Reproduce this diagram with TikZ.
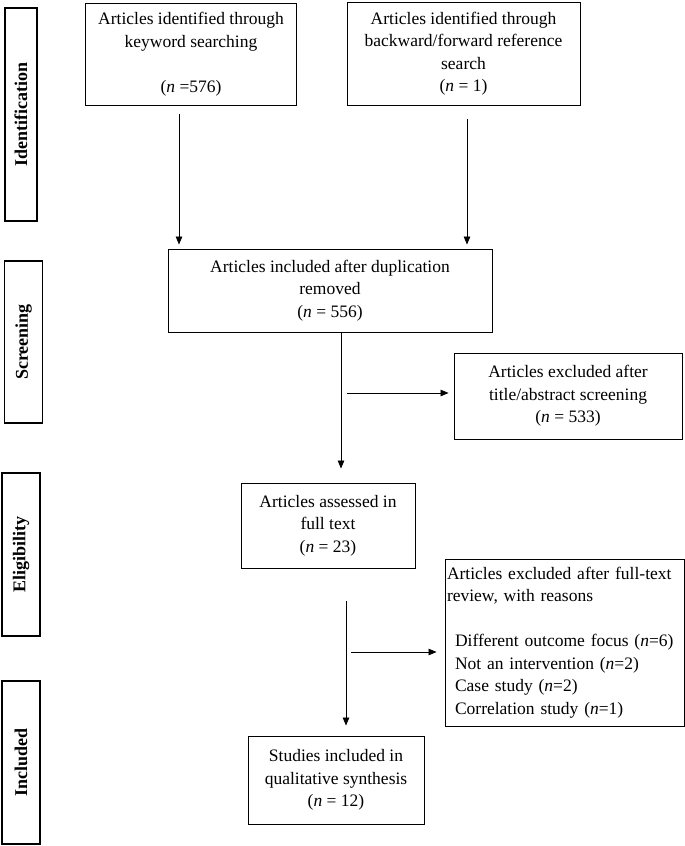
\documentclass[tikz,border=0pt]{standalone}
\usepackage{fontspec}
\setmainfont{Liberation Serif}
\usetikzlibrary{arrows.meta,positioning}

\begin{document}
\begin{tikzpicture}[x=1pt,y=-1pt,>={Triangle[length=8pt,width=6.5pt]},
  box/.style={draw,line width=0.9pt,align=center,inner sep=2pt,font=\fontsize{17.5}{22.5}\selectfont},
  phase/.style={draw,line width=1.2pt,rotate=90,font=\bfseries\fontsize{18}{22}\selectfont},
  arr/.style={->,line width=0.8pt}]
	  \useasboundingbox (0,0) rectangle (685,846);
	  % phases
	  \node[phase,minimum width=213,minimum height=32] (ph1) at (21,114.5) {Identification};
	  \node[phase,minimum width=162,minimum height=38] (ph2) at (23.5,342) {Screening};
	  \node[phase,minimum width=163,minimum height=38] (ph3) at (21,554.5) {Eligibility};
	  \node[phase,minimum width=163,minimum height=38] (ph4) at (21,762.5) {Included};
	  % boxes
	  \node[box,minimum width=211,minimum height=102] (kw) at (191,54)
	    {Articles identified through\\keyword searching\\[22.5pt](\textit{n} =576)};
	  \node[box,minimum width=233,minimum height=103] (ref) at (463.5,53.5)
	    {Articles identified through\\backward/forward reference\\search\\(\textit{n} = 1)};
	  \node[box,minimum width=324,minimum height=83] (dup) at (330,290.5)
	    {Articles included after duplication\\removed\\(\textit{n} = 556)};
	  \node[box,minimum width=228,minimum height=86] (ex1) at (568,396)
	    {Articles excluded after\\title/abstract screening\\(\textit{n} = 533)};
	  \node[box,minimum width=174,minimum height=85] (full) at (328,525.5)
	    {Articles assessed in\\full text\\(\textit{n} = 23)};
	  \node[box,minimum width=239,minimum height=167,align=left,text width=235] (ex2) at (564.5,642.5)
	    {Articles excluded after full-text\\review, with reasons\\[22.5pt]
	     \hspace*{8pt}Different outcome focus (\textit{n}=6)\\
	     \hspace*{8pt}Not an intervention (\textit{n}=2)\\
	     \hspace*{8pt}Case study (\textit{n}=2)\\
	     \hspace*{8pt}Correlation study (\textit{n}=1)};
	  \node[box,minimum width=176,minimum height=88] (inc) at (336,780)
	    {Studies included in\\qualitative synthesis\\(\textit{n} = 12)};
	  % connectors
	  \coordinate (s1) at (347,393);
	  \coordinate (s2) at (351,652);
	  \draw[arr,shorten <=9pt,shorten >=4pt] ([shift={(-12,0)}]kw.south) -- ([shift={(-12,0)}]kw.south |- dup.north);
	  \draw[arr,shorten <=14pt,shorten >=4pt] ([shift={(3.5,0)}]ref.south) -- ([shift={(3.5,0)}]ref.south |- dup.north);
	  \draw[arr,shorten >=14pt] ([shift={(11,0)}]dup.south) -- ([shift={(11,0)}]dup.south |- full.north);
	  \draw[arr,shorten >=5pt] (s1) -- (s1 -| ex1.west);
	  \draw[arr,shorten <=33pt,shorten >=10pt] ([shift={(18,0)}]full.south) -- ([shift={(18,0)}]full.south |- inc.north);
	  \draw[arr,shorten >=8pt] (s2) -- (s2 -| ex2.west);
\end{tikzpicture}
\end{document}
